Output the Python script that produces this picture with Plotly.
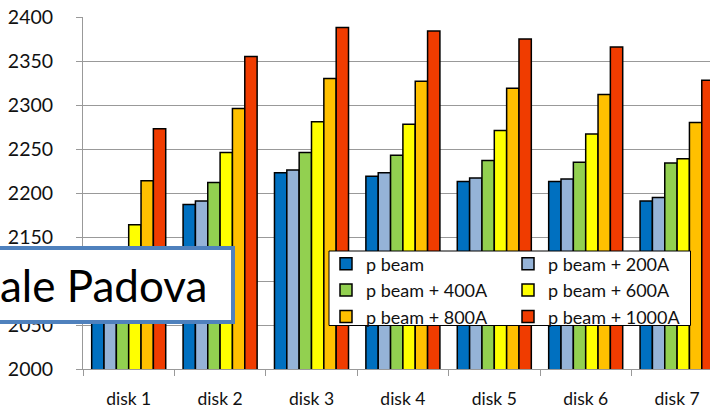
import plotly.graph_objects as go

# Categories and series values
disks = ["disk 1", "disk 2", "disk 3", "disk 4", "disk 5", "disk 6", "disk 7"]
series_names = ["p beam", "p beam + 200A", "p beam + 400A",
                "p beam + 600A", "p beam + 800A", "p beam + 1000A"]
p_beam = [2120, 2187, 2223, 2219, 2213, 2213, 2191]
p_beam_200 = [2125, 2191, 2226, 2223, 2217, 2216, 2195]
p_beam_400 = [2135, 2212, 2246, 2243, 2237, 2235, 2234]
p_beam_600 = [2164, 2246, 2281, 2278, 2271, 2267, 2239]
p_beam_800 = [2214, 2296, 2330, 2327, 2319, 2312, 2280]
p_beam_1000 = [2273, 2355, 2388, 2384, 2375, 2366, 2328]
y_ticks = [2000, 2050, 2100, 2150, 2200, 2250, 2300, 2350, 2400]

colors = ["#0070C0", "#95B3D7", "#92D050", "#FFFF00", "#FFC000", "#F03C00"]
values = [p_beam, p_beam_200, p_beam_400, p_beam_600, p_beam_800, p_beam_1000]

FONT = "Lato"
W, H = 710, 411
ML, MR, MT, MB = 83, 0, 17, 42
PW, PH = W - ML - MR, H - MT - MB


def px(x):
    return (x - ML) / PW


def py(y):
    return (H - MB - y) / PH


fig = go.Figure()
for i, (name, vals, col) in enumerate(zip(series_names, values, colors)):
    fig.add_trace(go.Bar(
        x=disks, y=vals, name=name,
        marker=dict(color=col, line=dict(color="#000000", width=1.5)),
        legend="legend" if i % 2 == 0 else "legend2",
        legendgroup=name,
    ))

legend_common = dict(
    orientation="v", xanchor="left", yanchor="top",
    bgcolor="rgba(0,0,0,0)", borderwidth=0,
    font=dict(family=FONT, size=18, color="#111111"),
    traceorder="grouped", tracegroupgap=0,
)

fig.update_layout(
    width=W, height=H,
    margin=dict(l=ML, r=MR, t=MT, b=MB, pad=0),
    paper_bgcolor="white", plot_bgcolor="white",
    barmode="group", bargap=0.19, bargroupgap=0,
    showlegend=True,
    legend=dict(x=px(326), y=py(245.5), **legend_common),
    legend2=dict(x=px(508), y=py(245.5), **legend_common),
    font=dict(family=FONT, size=18, color="#111111"),
    xaxis=dict(
        range=[-0.5, 6.36], showgrid=False,
        showline=True, linecolor="#999999", linewidth=1,
        ticks="outside", tickson="boundaries", ticklen=6, tickcolor="#999999",
        ticklabelstandoff=14,
        tickfont=dict(family=FONT, size=17.5, color="#111111"),
    ),
    yaxis=dict(
        range=[2000, 2400], tickvals=y_ticks,
        showgrid=True, gridcolor="#999999", gridwidth=1,
        showline=True, linecolor="#999999", linewidth=1,
        ticks="outside", ticklen=6, tickcolor="#999999",
        ticklabelstandoff=19,
        tickfont=dict(family=FONT, size=19.5, color="#111111"),
    ),
)

# Legend frame
fig.add_shape(type="rect", xref="paper", yref="paper",
              x0=px(329), x1=px(690.5), y0=py(325.5), y1=py(251),
              fillcolor="white", line=dict(color="#000000", width=1), layer="above")

# Text box over the lower left
fig.add_shape(type="rect", xref="paper", yref="paper",
              x0=px(-10), x1=px(233), y0=py(322), y1=py(248),
              fillcolor="white", line=dict(color="#4F81BD", width=4), layer="above")
fig.add_annotation(xref="paper", yref="paper", x=px(209), y=py(285),
                   xanchor="right", yanchor="middle", showarrow=False,
                   text="ale Padova",
                   font=dict(family=FONT, size=44, color="#000000"))

fig.write_html("out.html")
